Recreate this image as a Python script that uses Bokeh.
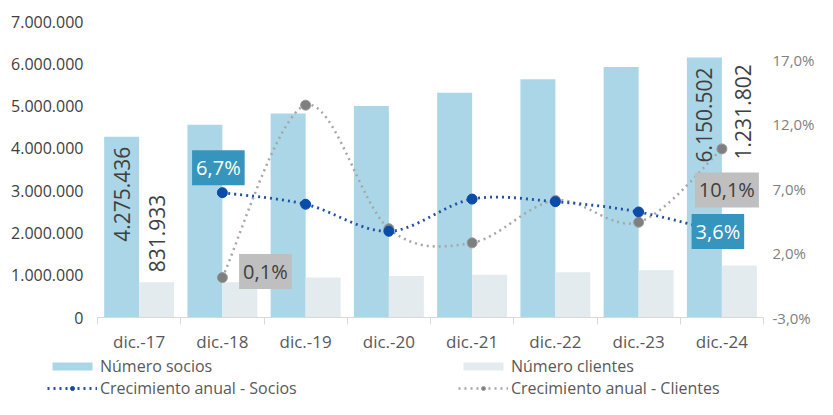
import numpy as np
from bokeh.plotting import figure
from bokeh.models import (Range1d, LinearAxis, FixedTicker, CustomJSTickFormatter,
                          Legend, LegendItem, ColumnDataSource)
from bokeh.core.properties import value
from bokeh.embed import file_html
from bokeh.resources import INLINE

# ---------------- data ----------------
categorias = ["dic.-17", "dic.-18", "dic.-19", "dic.-20", "dic.-21", "dic.-22", "dic.-23", "dic.-24"]
socios = [4275436, 4561000, 4826000, 5004000, 5314000, 5633000, 5926000, 6150502]
clientes = [831933, 832700, 945100, 981900, 1009400, 1071000, 1118000, 1231802]
crec_socios = [None, 6.7, 5.8, 3.7, 6.2, 6.0, 5.2, 3.6]
crec_clientes = [None, 0.1, 13.5, 3.9, 2.8, 6.1, 4.4, 10.1]
left_ticks = [0, 1000000, 2000000, 3000000, 4000000, 5000000, 6000000, 7000000]
right_ticks = [-3.0, 2.0, 7.0, 12.0, 17.0]

FONT = "Open Sans"
TXT = "#595959"
C_SOC = "#ABD6E7"
C_CLI = "#E3EBEE"
C_BLUE_LINE = "#2350A5"
C_BLUE_MK = "#0B4BAA"
C_GREY_LINE = "#A6A6A6"
C_GREY_MK = "#7F7F7F"
DASH = "2 4"

n = len(categorias)
xc = np.arange(n) + 0.5
BW = 0.42

p = figure(width=817, height=355, output_backend="svg", toolbar_location=None,
           x_range=Range1d(0, n), y_range=Range1d(0, 7000000),
           min_border_left=97, min_border_right=50, min_border_top=21, min_border_bottom=34)
p.extra_y_ranges = {"pct": Range1d(-3, 20)}
p.xgrid.visible = False
p.ygrid.visible = False
p.outline_line_color = None

# x axis
xa = p.xaxis[0]
xa.ticker = FixedTicker(ticks=list(xc), minor_ticks=list(np.arange(n + 1)))
xa.major_label_overrides = {float(x): c for x, c in zip(xc, categorias)}
xa.axis_line_color = "#D9D9D9"
xa.major_tick_line_color = None
xa.major_tick_out = 0
xa.major_tick_in = 0
xa.minor_tick_line_color = "#D9D9D9"
xa.minor_tick_out = 7
xa.minor_tick_in = 0
xa.major_label_standoff = 5
xa.axis_label_standoff = 0
xa.major_label_text_font = FONT
xa.major_label_text_font_size = "17px"
xa.major_label_text_color = TXT

# left axis
ya = p.yaxis[0]
ya.ticker = FixedTicker(ticks=left_ticks)
ya.formatter = CustomJSTickFormatter(code="return Math.round(tick).toString().replace(/\\B(?=(\\d{3})+(?!\\d))/g, '.');")
ya.axis_line_color = None
ya.major_tick_line_color = None
ya.minor_tick_line_color = None
ya.major_tick_out = 0
ya.major_tick_in = 0
ya.axis_label_standoff = 0
ya.major_label_standoff = 14
ya.major_label_text_font = FONT
ya.major_label_text_font_size = "16px"
ya.major_label_text_color = "#404040"

# right axis
ra = LinearAxis(y_range_name="pct", ticker=FixedTicker(ticks=right_ticks),
                formatter=CustomJSTickFormatter(code="return tick.toFixed(1).replace('.', ',') + '%';"))
ra.axis_line_color = None
ra.major_tick_line_color = None
ra.minor_tick_line_color = None
ra.major_tick_out = 0
ra.major_tick_in = 0
ra.axis_label_standoff = 0
ra.major_label_standoff = 9
ra.major_label_text_font = FONT
ra.major_label_text_font_size = "15px"
ra.major_label_text_color = "#7F7F7F"
p.add_layout(ra, "right")

# bars
bar_s_style = dict(fill_color=C_SOC, line_color=None)
bar_c_style = dict(fill_color=C_CLI, line_color=None)
p.vbar(x=xc - BW / 2, top=socios, width=BW, **bar_s_style)
p.vbar(x=xc + BW / 2, top=clientes, width=BW, **bar_c_style)


def smooth_source(vals):
    pts = [(x, v) for x, v in zip(xc, vals) if v is not None]
    d = dict(x0=[], y0=[], x1=[], y1=[], cx0=[], cy0=[], cx1=[], cy1=[])
    for i in range(len(pts) - 1):
        p0 = pts[i - 1] if i > 0 else pts[i]
        p1 = pts[i]
        p2 = pts[i + 1]
        p3 = pts[i + 2] if i + 2 < len(pts) else pts[i + 1]
        d["x0"].append(p1[0]); d["y0"].append(p1[1])
        d["x1"].append(p2[0]); d["y1"].append(p2[1])
        d["cx0"].append(p1[0] + (p2[0] - p0[0]) / 6); d["cy0"].append(p1[1] + (p2[1] - p0[1]) / 6)
        d["cx1"].append(p2[0] - (p3[0] - p1[0]) / 6); d["cy1"].append(p2[1] - (p3[1] - p1[1]) / 6)
    return ColumnDataSource(d)


def nanify(vals):
    return [np.nan if v is None else v for v in vals]


line_c_style = dict(line_color=C_GREY_LINE, line_width=2.5, line_dash=DASH)
mk_c_style = dict(size=10, fill_color=C_GREY_MK, line_color="#9A9A9A", line_width=1)
line_s_style = dict(line_color=C_BLUE_LINE, line_width=2.8, line_dash=DASH)
mk_s_style = dict(size=10, fill_color=C_BLUE_MK, line_color=C_BLUE_MK, line_width=1)

p.bezier(x0="x0", y0="y0", x1="x1", y1="y1", cx0="cx0", cy0="cy0", cx1="cx1", cy1="cy1",
         source=smooth_source(crec_clientes), y_range_name="pct", **line_c_style)
p.scatter(x=xc, y=nanify(crec_clientes), y_range_name="pct", **mk_c_style)
p.bezier(x0="x0", y0="y0", x1="x1", y1="y1", cx0="cx0", cy0="cy0", cx1="cx1", cy1="cy1",
         source=smooth_source(crec_socios), y_range_name="pct", **line_s_style)
p.scatter(x=xc, y=nanify(crec_socios), y_range_name="pct", **mk_s_style)


def fmt_num(v):
    return f"{v:,}".replace(",", ".")


def fmt_pct(v):
    return f"{v:.1f}".replace(".", ",") + "%"


# value labels (first and last year)
src_vs = ColumnDataSource(dict(x=[xc[0] - BW / 2, xc[-1] - BW / 2], y=[socios[0], socios[-1]],
                               t=[fmt_num(socios[0]), fmt_num(socios[-1])]))
p.text(x="x", y="y", text="t", source=src_vs, angle=np.pi / 2, text_align="right",
       text_baseline="middle", y_offset=10, text_font=value(FONT), text_font_size="21px",
       text_color="#404040")
src_vc = ColumnDataSource(dict(x=[xc[0] + BW / 2, xc[-1] + BW / 2], y=[clientes[0], clientes[-1]],
                               t=[fmt_num(clientes[0]), fmt_num(clientes[-1])],
                               xo=[0, 4], yo=[-10, -106]))
p.text(x="x", y="y", text="t", source=src_vc, angle=np.pi / 2, text_align="left",
       text_baseline="middle", x_offset="xo", y_offset="yo", text_font=value(FONT),
       text_font_size="21px", text_color="#404040")

# percentage labels with boxes
first_s = next(i for i, v in enumerate(crec_socios) if v is not None)
first_c = next(i for i, v in enumerate(crec_clientes) if v is not None)
src_ps = ColumnDataSource(dict(x=[xc[first_s], xc[-1]], y=[crec_socios[first_s], crec_socios[-1]],
                               t=[fmt_pct(crec_socios[first_s]), fmt_pct(crec_socios[-1])],
                               xo=[-4, -4], yo=[-25, -1]))
p.text(x="x", y="y", text="t", source=src_ps, y_range_name="pct", x_offset="xo", y_offset="yo",
       text_align="center", text_baseline="middle", text_font=value(FONT), text_font_size="20px",
       text_color="white", background_fill_color="#3595BD", padding=4)
src_pc = ColumnDataSource(dict(x=[xc[first_c], xc[-1]], y=[crec_clientes[first_c], crec_clientes[-1]],
                               t=[fmt_pct(crec_clientes[first_c]), fmt_pct(crec_clientes[-1])],
                               xo=[43, 5], yo=[-6, 41]))
p.text(x="x", y="y", text="t", source=src_pc, y_range_name="pct", x_offset="xo", y_offset="yo",
       text_align="center", text_baseline="middle", text_font=value(FONT), text_font_size="20px",
       text_color="#404040", background_fill_color="#BFBFBF", padding=4)

# ---------------- legend strip (separate root, so it is not frame-aligned) ----------------
lg = figure(width=817, height=44, output_backend="svg", toolbar_location=None,
            x_range=Range1d(0, n), y_range=Range1d(-1, 1), x_axis_type=None, y_axis_type=None,
            min_border=0)
lg.outline_line_color = None
lg.xgrid.visible = False
lg.ygrid.visible = False
r_bs = lg.vbar(x=xc, top=socios, width=BW, visible=False, **bar_s_style)
r_bc = lg.vbar(x=xc, top=clientes, width=BW, visible=False, **bar_c_style)
r_ls = lg.line(x=xc, y=nanify(crec_socios), visible=False, **line_s_style)
r_ms = lg.scatter(x=xc, y=nanify(crec_socios), visible=False, **mk_s_style)
r_lc = lg.line(x=xc, y=nanify(crec_clientes), visible=False, **line_c_style)
r_mc = lg.scatter(x=xc, y=nanify(crec_clientes), visible=False, **mk_c_style)

common = dict(label_text_font=FONT, label_text_font_size="16px", label_text_color=TXT,
              glyph_width=50, glyph_height=10, label_standoff=3, spacing=0, padding=0, margin=0,
              background_fill_alpha=0, border_line_color=None, click_policy="none")
leg1 = Legend(items=[LegendItem(label="Número socios", renderers=[r_bs]),
                     LegendItem(label="Crecimiento anual - Socios", renderers=[r_ls, r_ms])],
              location=(47, 0), **common)
leg2 = Legend(items=[LegendItem(label="Número clientes", renderers=[r_bc]),
                     LegendItem(label="Crecimiento anual - Clientes", renderers=[r_lc, r_mc])],
              location=(458, 0), **common)
lg.add_layout(leg1)
lg.add_layout(leg2)

open("out.html", "w").write(file_html([p, lg], INLINE))
